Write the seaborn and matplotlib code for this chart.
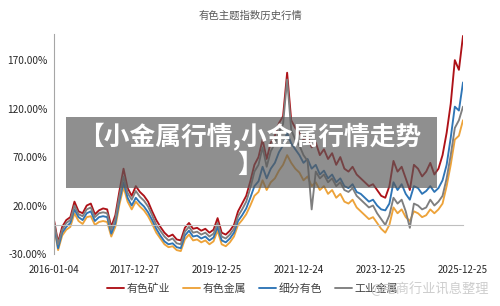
import pandas as pd
import numpy as np
import matplotlib
matplotlib.use("Agg")
import matplotlib.pyplot as plt
import matplotlib.ticker as mticker
from matplotlib.patches import Rectangle
import seaborn as sns

# ── Data (index values in %, roughly every 5 weeks) ──────────────
start_date = "2016-01-04"
end_date = "2025-12-25"
tick_dates = ["2016-01-04", "2017-12-27", "2019-12-25", "2021-12-24", "2023-12-25", "2025-12-25"]
series_names = ["有色矿业", "有色金属", "细分有色", "工业金属"]

mining = [5, -18, -2, 5, 8, 24, 14, 12, 20, 22, 11, 15, 17, 16, -2, 10, 35, 58, 38, 30,
          40, 34, 30, 24, 14, 5, -2, -8, -12, -10, -15, -16, -3, 2, -4, -3, -6, -4, -8, -5,
          7, -8, -10, -6, 0, 14, 22, 30, 45, 62, 70, 88, 68, 85, 92, 105, 112, 157, 108, 100,
          95, 88, 92, 80, 85, 72, 78, 68, 74, 62, 70, 58, 55, 60, 52, 48, 44, 40, 42, 36,
          30, 28, 40, 66, 55, 60, 48, 36, 62, 58, 50, 55, 64, 52, 58, 72, 95, 125, 170, 160,
          195]
metals = [-2, -26, -11, -5, -2, 12, 4, 1, 8, 9, 0, 3, 4, 3, -12, -2, 21, 39, 24, 16,
          24, 19, 15, 9, 1, -8, -14, -20, -23, -22, -26, -27, -15, -10, -16, -15, -18, -16, -20, -17,
          -6, -20, -22, -18, -12, 0, 5, 11, 20, 30, 34, 46, 36, 44, 48, 56, 62, 72, 64, 58,
          54, 46, 50, 40, 44, 36, 40, 32, 36, 28, 32, 24, 22, 26, 18, 14, 10, 6, 8, 2,
          -4, -8, 0, 18, 12, 16, 8, 4, 14, 12, 8, 10, 16, 12, 16, 22, 40, 62, 88, 92,
          108]
subsector = [0, -24, -8, -2, 2, 16, 8, 5, 12, 14, 4, 8, 9, 8, -9, 2, 25, 44, 28, 20,
             28, 23, 19, 13, 5, -4, -11, -17, -20, -19, -23, -24, -11, -6, -12, -11, -14, -12, -16, -13,
             -2, -16, -18, -14, -8, 4, 10, 17, 28, 40, 45, 60, 48, 58, 64, 75, 82, 95, 84, 78,
             72, 64, 68, 58, 62, 52, 56, 48, 52, 44, 48, 40, 38, 42, 34, 32, 28, 24, 26, 20,
             16, 15, 22, 44, 36, 42, 32, 26, 40, 38, 32, 35, 40, 34, 38, 46, 62, 90, 122, 118,
             147]
industrial = [3, -20, -5, 2, 5, 20, 11, 9, 16, 18, 8, 12, 13, 12, -5, 6, 30, 50, 33, 26,
              35, 29, 25, 19, 10, 0, -6, -12, -16, -14, -19, -20, -7, -2, -8, -7, -10, -8, -12, -9,
              2, -12, -14, -10, -4, 9, 16, 24, 38, 55, 62, 80, 60, 76, 84, 96, 104, 150, 98, 88,
              82, 72, 66, 16, 55, 48, 52, 44, 48, 40, 44, 36, 34, 38, 30, 26, 22, 18, 20, 12,
              6, 0, 10, 28, 22, 26, 14, -3, 22, 20, 16, 18, 26, 20, 24, 30, 48, 72, 100, 108,
              122]

colors = ["#AE1218", "#EDA33A", "#2E75B6", "#7F7F7F"]

dates = pd.date_range(start_date, end_date, periods=len(mining))
df = pd.DataFrame({"date": dates, "有色矿业": mining, "有色金属": metals,
                   "细分有色": subsector, "工业金属": industrial})
long_df = df.melt(id_vars="date", var_name="name", value_name="value")

# ── Figure ───────────────────────────────────────────────────────
sns.set_style("white")
plt.rcParams["font.family"] = ["Noto Sans CJK SC", "DejaVu Sans"]

fig = plt.figure(figsize=(5, 3.06), dpi=100)
ax = fig.add_axes([0.108, 0.170, 0.818, 0.719])

sns.lineplot(data=long_df, x="date", y="value", hue="name", hue_order=series_names,
             palette=colors, linewidth=1.35, ax=ax)

ax.set_ylim(-30, 197)
ax.set_xlim(pd.Timestamp(start_date), pd.Timestamp(end_date))
ax.set_yticks([-30, 20, 70, 120, 170])
ax.yaxis.set_major_formatter(mticker.FuncFormatter(lambda v, p: f"{v:.2f}%"))
ax.set_xticks(pd.to_datetime(tick_dates))
ax.set_xticklabels(tick_dates)
ax.set_xlabel("")
ax.set_ylabel("")

for s in ["top", "right"]:
    ax.spines[s].set_visible(False)
ax.spines["left"].set_color("#A6A6A6")
ax.spines["bottom"].set_color("#BFBFBF")
ax.spines["bottom"].set_position(("data", 0))
ax.tick_params(axis="y", length=3, color="#A6A6A6", labelsize=7.3, labelcolor="#262626", pad=2)
ax.tick_params(axis="x", length=3, color="#BFBFBF", direction="out", labelsize=7,
               labelcolor="#262626", pad=26)

sns.move_legend(ax, "center", bbox_to_anchor=(0.505, 0.058), bbox_transform=fig.transFigure,
                ncol=4, frameon=False, title=None, fontsize=7.8, handlelength=1.6,
                handletextpad=0.2, columnspacing=1.2)
for t in ax.get_legend().get_texts():
    t.set_color("#404040")

fig.text(0.5, 0.95, "有色主题指数历史行情", ha="center", va="center", fontsize=7.5, color="#595959")

# overlay banner
fig.patches.append(Rectangle((0.132, 0.386), 0.742, 0.232, transform=fig.transFigure,
                             facecolor="#5A5A5A", alpha=0.68, edgecolor="none", zorder=5))
fig.text(0.5, 0.553, "【小金属行情,小金属行情走势", ha="center", va="center", fontsize=18.5,
         fontweight="bold", color="white", zorder=6)
fig.text(0.5, 0.458, "】", ha="center", va="center", fontsize=18.5,
         fontweight="bold", color="white", zorder=6)

# watermark
fig.text(0.74, 0.058, "@电商行业讯息整理", ha="left", va="center", fontsize=9.5,
         color="#C8C8C8", alpha=0.9, zorder=7)

fig.savefig("out.png", dpi=100)
